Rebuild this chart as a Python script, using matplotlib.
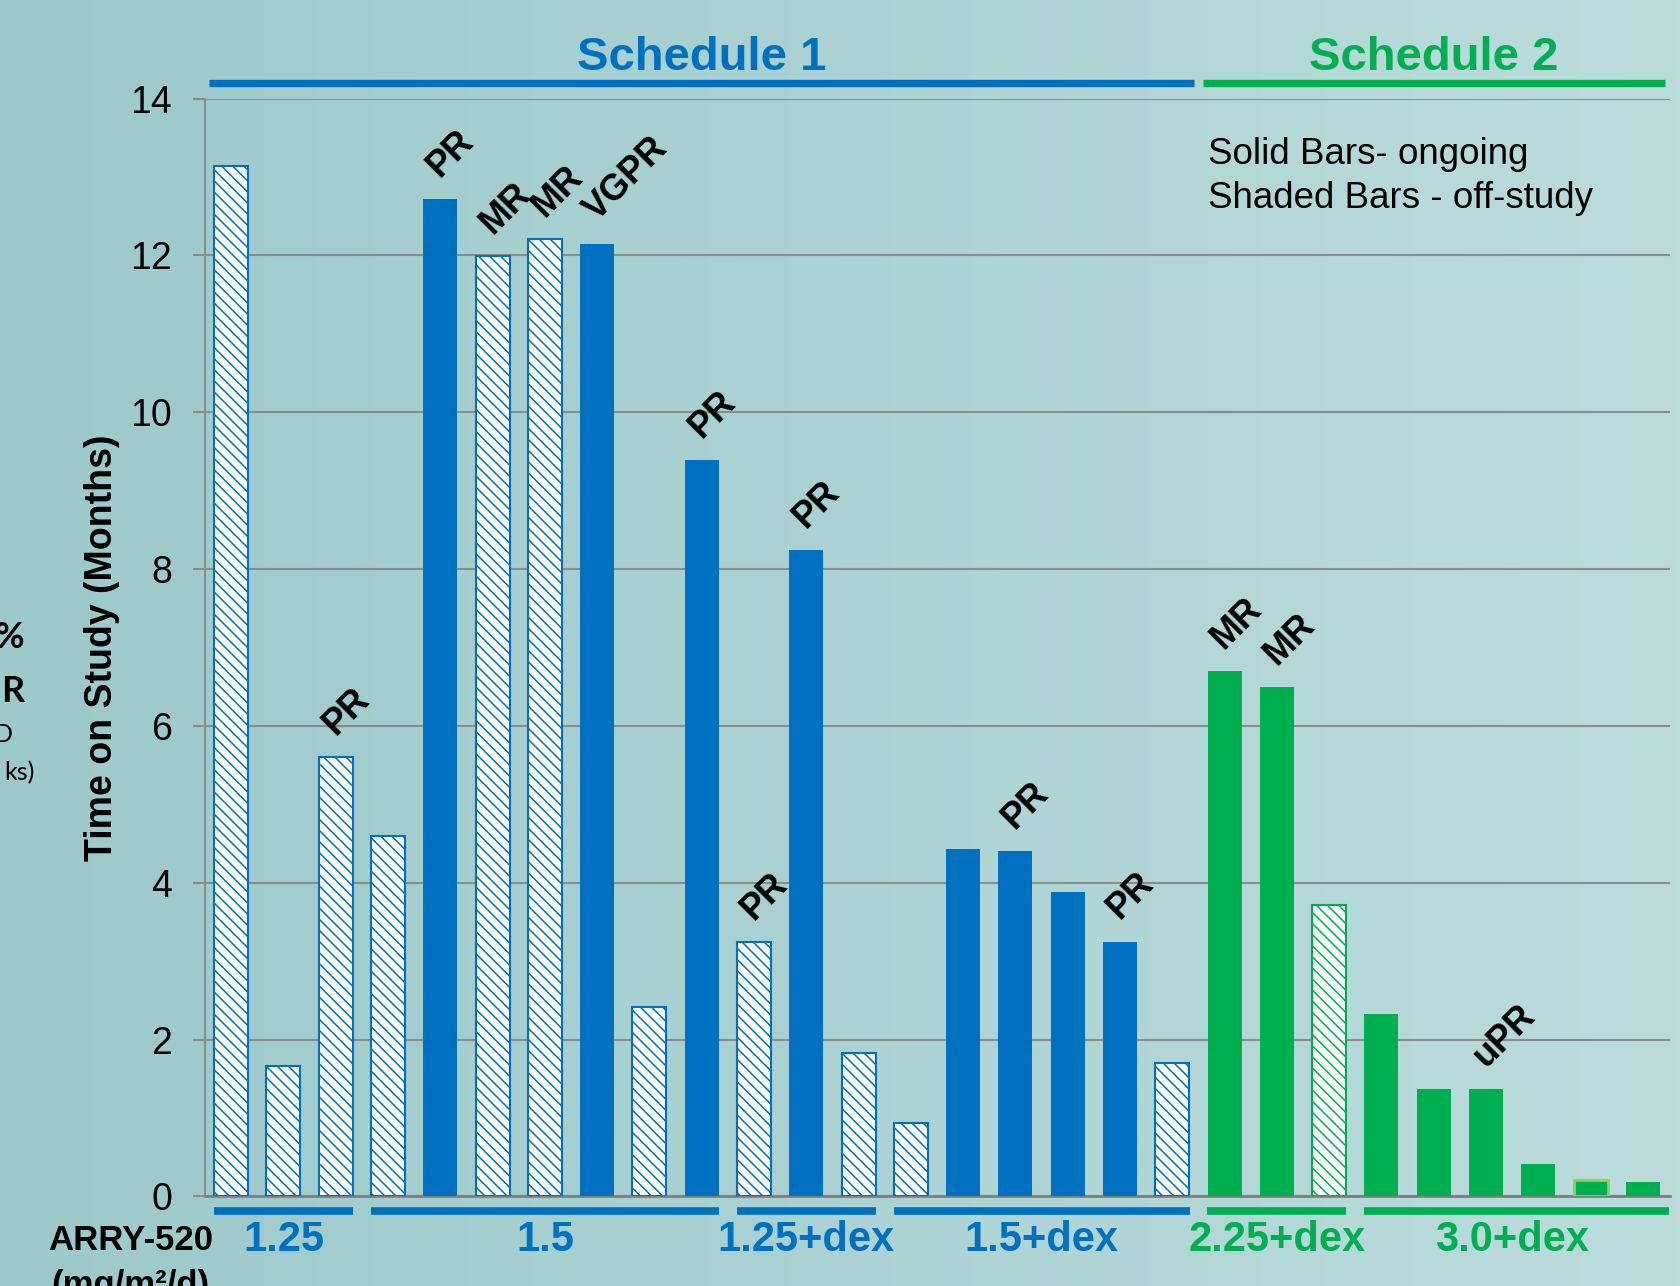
import numpy as np
import matplotlib
matplotlib.use("Agg")
import matplotlib.pyplot as plt

# time on study per patient (months), left to right
values = [13.14, 1.66, 5.60, 4.59, 12.72, 11.99, 12.21, 12.15, 2.42, 9.39,
          3.24, 8.24, 1.83, 0.94, 4.43, 4.40, 3.88, 3.25, 1.70, 6.70,
          6.49, 3.71, 2.33, 1.37, 1.37, 0.41, 0.21, 0.18]
# 1 = still on study (solid bar), 0 = off-study (shaded bar)
ongoing = [0, 0, 0, 0, 1, 0, 0, 1, 0, 1,
           0, 1, 0, 0, 1, 1, 1, 1, 0, 1,
           1, 0, 1, 1, 1, 1, 1, 1]
responses = ["", "", "PR", "", "PR", "MR", "MR", "VGPR", "", "PR",
             "PR", "PR", "", "", "", "PR", "", "PR", "", "MR",
             "MR", "", "", "", "uPR", "", "", ""]
dose_groups = ["1.25", "1.5", "1.25+dex", "1.5+dex", "2.25+dex", "3.0+dex"]
group_sizes = [3, 7, 3, 6, 3, 6]
group_schedule = [1, 1, 1, 1, 2, 2]
schedules = ["Schedule 1", "Schedule 2"]
yticks = [0, 2, 4, 6, 8, 10, 12, 14]

BLUE = "#0070C0"
GREEN = "#00B050"
LIGHT_GREEN = "#92D050"
GRID = "#8C8C8C"
SANS = ["Liberation Sans", "DejaVu Sans"]

plt.rcParams["font.family"] = SANS
plt.rcParams["hatch.linewidth"] = 1.1

W, H = 1681, 1286
fig = plt.figure(figsize=(W / 100, H / 100), dpi=100)

# background gradient
bg = fig.add_axes([0, 0, 1, 1], zorder=-10)
c0 = np.array([156, 201, 202]) / 255
c1 = np.array([188, 220, 220]) / 255
t = np.linspace(0, 1, 256)
grad = c0[None, :] * (1 - t[:, None]) + c1[None, :] * t[:, None]
bg.imshow(grad[None, :, :], aspect="auto", extent=[0, 1, 0, 1])
bg.axis("off")

ax = fig.add_axes([205 / W, 1 - 1196.4 / H, 1465 / W, 1097.8 / H])
ax.set_facecolor("none")

# bar index -> schedule colour
bar_sched = np.repeat(group_schedule, group_sizes)
x = np.arange(len(values))

for i, (xi, v) in enumerate(zip(x, values)):
    col = BLUE if bar_sched[i] == 1 else GREEN
    if ongoing[i]:
        edge = col
        lw = 0
        if i == len(values) - 2:
            edge, lw = LIGHT_GREEN, 2.0
        ax.bar(xi, v, width=0.65, color=col, edgecolor=edge, linewidth=lw, zorder=3)
    else:
        ax.bar(xi, v, width=0.65, facecolor="white", edgecolor=col,
               hatch="\\\\\\", linewidth=1.5, zorder=3)
    if responses[i]:
        ax.text(xi + 0.1, v + 0.2, responses[i], rotation=45,
                rotation_mode="anchor", ha="left", va="bottom",
                fontsize=26, fontweight="bold", color="black", zorder=5)

ax.set_xlim(-0.5, 27.52)
ax.set_ylim(0, 14)
ax.set_yticks(yticks)
ax.set_xticks([])
ax.grid(axis="y", color=GRID, linewidth=1.5, zorder=0)
ax.tick_params(axis="y", direction="out", length=8.6, width=1.5, color=GRID,
               pad=15, labelsize=27)
for s in ["top", "right"]:
    ax.spines[s].set_visible(False)
ax.spines["left"].set_color(GRID)
ax.spines["left"].set_linewidth(1.5)
ax.spines["bottom"].set_color("#7F7F7F")
ax.spines["bottom"].set_linewidth(2.0)

ax.set_ylabel("Time on Study (Months)", fontsize=27, fontweight="bold")
ax.yaxis.set_label_coords(-0.058, 0.5)

# dose group lines and labels under the axis
start = 0
for name, n, sch in zip(dose_groups, group_sizes, group_schedule):
    col = BLUE if sch == 1 else GREEN
    first, last = start, start + n - 1
    right = last + 0.33 if last < len(values) - 1 else 27.5
    ax.plot([first - 0.33, right], [-0.19, -0.19], color=col, linewidth=5.5,
            solid_capstyle="butt", clip_on=False)
    ax.text((first + last) / 2, -0.56, name, ha="center", va="center",
            fontsize=30, fontweight="bold", color=col)
    start += n

# schedule header lines and titles
for k, name in enumerate(schedules):
    idx = np.where(bar_sched == k + 1)[0]
    col = BLUE if k == 0 else GREEN
    ax.plot([idx[0] - 0.42, idx[-1] + 0.42], [14.2, 14.2], color=col,
            linewidth=5.3, solid_capstyle="butt", clip_on=False)
    ax.text((idx[0] + idx[-1]) / 2, 14.365, name,
            ha="center", va="baseline", fontsize=34, fontweight="bold", color=col)

ax.text(18.69, 13.17, "Solid Bars- ongoing", fontsize=26.5, va="baseline", ha="left")
ax.text(18.69, 12.60, "Shaded Bars - off-study", fontsize=26.5, va="baseline", ha="left")

ax.text(-1.92, -0.56, "ARRY-520", fontsize=25, fontweight="bold", ha="center", va="center")
ax.text(-1.92, -1.13, "(mg/m²/d)", fontsize=25, fontweight="bold", ha="center", va="center")

# clipped text at the left edge of the slide
fig.text(24 / W, 1 - 638 / H, "%", fontsize=26, fontweight="bold", ha="right", va="center",
         family=["Lato", "DejaVu Sans"])
fig.text(24 / W, 1 - 692 / H, "R", fontsize=26, fontweight="bold", ha="right", va="center",
         family=["Lato", "DejaVu Sans"])
fig.text(13 / W, 1 - 735 / H, "D", fontsize=18, ha="right", va="center",
         family=["Lato", "DejaVu Sans"])
fig.text(35 / W, 1 - 773 / H, "ks)", fontsize=18, ha="right", va="center",
         family=["Lato", "DejaVu Sans"])

fig.savefig("out.png", dpi=100)
